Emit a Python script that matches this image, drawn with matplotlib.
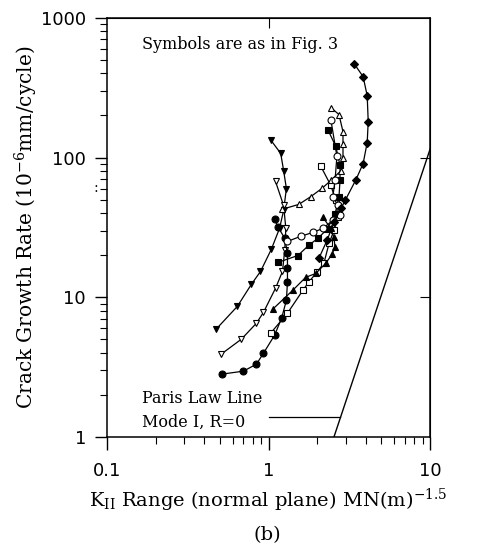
import matplotlib.pyplot as plt
from matplotlib.ticker import NullLocator, NullFormatter

plt.rcParams['mathtext.fontset'] = 'dejavuserif'

# Crack growth data, one list pair per specimen (K range, rate in 1e-6 mm/cycle)
k_tri_down_filled = [0.474, 0.641, 0.784, 0.892, 1.04, 1.17, 1.24, 1.29, 1.24, 1.19, 1.03]
r_tri_down_filled = [5.91, 8.6, 12.4, 15.3, 22.0, 31.1, 41.8, 60, 80.7, 107, 134]

k_tri_down_open = [0.51, 0.679, 0.842, 0.931, 1.105, 1.22, 1.26, 1.28, 1.24, 1.105]
r_tri_down_open = [3.92, 5.01, 6.52, 7.81, 11.6, 15.3, 21.7, 31.1, 45.4, 67.4]

k_circle_filled = [0.517, 0.699, 0.842, 0.931, 1.09, 1.205, 1.29, 1.31, 1.31, 1.31, 1.26, 1.15, 1.09]
r_circle_filled = [2.82, 2.96, 3.32, 3.98, 5.35, 7.08, 9.52, 12.8, 16.1, 20.6, 26.4, 31.6, 36.1]

k_square_open = [1.03, 1.31, 1.63, 1.77, 1.99, 2.2, 2.37, 2.54, 2.69, 2.61, 2.43, 2.11]
r_square_open = [5.53, 7.69, 11.2, 12.8, 15.1, 17.5, 24.3, 30.1, 37.3, 49.3, 63.1, 86.3]

k_square_filled = [1.15, 1.52, 1.77, 2.02, 2.3, 2.58, 2.73, 2.77, 2.77, 2.61, 2.33]
r_square_filled = [17.8, 19.9, 23.5, 26.4, 30.6, 39.2, 52.6, 68.5, 87.7, 120, 158]

k_tri_up_open = [1.205, 1.54, 1.83, 2.14, 2.43, 2.81, 2.89, 2.89, 2.89, 2.73, 2.43]
r_tri_up_open = [42.5, 46.2, 52.6, 60.1, 68.5, 80.7, 100, 126, 153, 203, 228]

k_tri_up_filled = [1.06, 1.41, 1.70, 1.96, 2.26, 2.47, 2.58, 2.54, 2.43, 2.17]
r_tri_up_filled = [8.2, 11.2, 13.9, 14.8, 17.5, 20.3, 22.8, 26.8, 31.1, 37.3]

k_circle_open = [1.31, 1.58, 1.88, 2.17, 2.5, 2.77, 2.69, 2.5, 2.58, 2.65, 2.43]
r_circle_open = [25.1, 27.3, 29.1, 31.1, 35.5, 38.5, 45.4, 52.6, 68.5, 102, 187]

k_diamond = [2.05, 2.3, 2.54, 2.81, 2.98, 3.48, 3.85, 4.08, 4.14, 4.08, 3.85, 3.39]
r_diamond = [19.0, 25.5, 34.3, 43.2, 49.3, 69.6, 90.6, 128, 181, 277, 379, 469]

# Mode I Paris law reference line and its label leader
paris_k = [2.54, 10]
paris_rate = [1, 115]
leader_k = [1.0, 2.78]
leader_rate = [1.38, 1.38]

series = [
    (k_tri_down_filled, r_tri_down_filled, 'v', 'black'),
    (k_tri_down_open, r_tri_down_open, 'v', 'white'),
    (k_circle_filled, r_circle_filled, 'o', 'black'),
    (k_square_open, r_square_open, 's', 'white'),
    (k_square_filled, r_square_filled, 's', 'black'),
    (k_tri_up_open, r_tri_up_open, '^', 'white'),
    (k_tri_up_filled, r_tri_up_filled, '^', 'black'),
    (k_circle_open, r_circle_open, 'o', 'white'),
    (k_diamond, r_diamond, 'D', 'black'),
]

fig = plt.figure(figsize=(4.86, 5.56), dpi=100)
ax = fig.add_axes([0.220, 0.214, 0.665, 0.754])

for k, r, m, fc in series:
    ax.plot(k, r, '-', color='black', lw=0.9, marker=m, ms=5 if m != 'D' else 4,
            mfc=fc, mec='black', mew=0.8)

ax.plot(paris_k, paris_rate, color='black', lw=1.0)
ax.plot(leader_k, leader_rate, color='black', lw=0.9)

ax.set_xscale('log')
ax.set_yscale('log')
ax.set_xlim(0.1, 10)
ax.set_ylim(1, 1000)

ax.set_xticks([0.1, 1, 10], ['0.1', '1', '10'])
ax.set_yticks([1, 10, 100, 1000], ['1', '10', '100', '1000'])
ax.xaxis.set_minor_formatter(NullFormatter())
ax.yaxis.set_minor_formatter(NullFormatter())
ax.tick_params(which='major', direction='out', length=9, width=1, labelsize=13, pad=6)
ax.tick_params(which='minor', direction='out', length=5, width=0.8)
ax.tick_params(axis='x', which='major', pad=9)
for s in ax.spines.values():
    s.set_linewidth(1.1)

# inward decade ticks on the top and right frame
top = ax.secondary_xaxis('top')
top.set_xticks([1])
top.xaxis.set_minor_locator(NullLocator())
top.tick_params(direction='in', length=7, labeltop=False)
right = ax.secondary_yaxis('right')
right.set_yticks([10, 100])
right.yaxis.set_minor_locator(NullLocator())
right.tick_params(direction='in', length=7, labelright=False)

serif = 'DejaVu Serif'
ax.set_xlabel(r'K$_{\mathrm{II}}$ Range (normal plane) MN(m)$^{-1.5}$', family=serif, fontsize=14, labelpad=5)
ax.set_ylabel(r'Crack Growth Rate (10$^{-6}$mm/cycle)', family=serif, fontsize=14.5, labelpad=1)

ax.text(0.11, 0.925, 'Symbols are as in Fig. 3', transform=ax.transAxes, family=serif, fontsize=11.5)
ax.text(0.11, 0.08, 'Paris Law Line', transform=ax.transAxes, family=serif, fontsize=11.5)
ax.text(0.11, 0.025, 'Mode I, R=0', transform=ax.transAxes, family=serif, fontsize=11.5)
fig.text(0.198, 0.655, ':', family=serif, fontsize=10, ha='center')
fig.text(0.551, 0.038, '(b)', family=serif, fontsize=14, ha='center', va='center')

fig.savefig('out.png', dpi=100)
